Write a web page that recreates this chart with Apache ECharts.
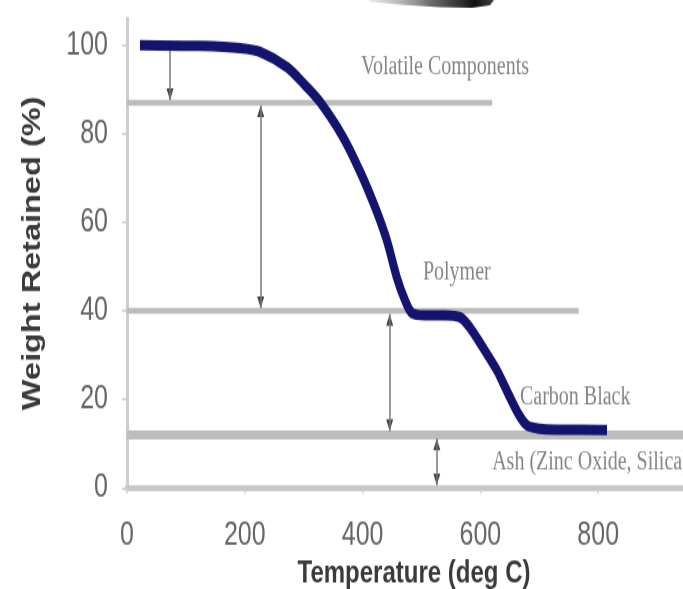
<!DOCTYPE html>
<html><head><meta charset="utf-8">
<script src="https://cdn.jsdelivr.net/npm/echarts@6/dist/echarts.min.js"></script>
<style>
html,body{margin:0;padding:0;background:#fff;overflow:hidden;width:683px;height:589px}
#c{width:683px;height:453px;transform:scaleY(1.3002);transform-origin:0 0}
</style>
</head><body><div id="c"></div>
<script>
// TGA curve (temperature in deg C, weight retained in %)
const temperature = [22,124,192,227,272,302,328,367,397,423,441,458,472,484,506,540,565,582,604,628,647,664,679,701,735,815];
const weight = [100,99.8,99.3,98.4,95.0,91.0,87.1,79.2,71.1,62.8,56.0,47.6,42.4,39.5,39.0,39.0,38.6,36.3,31.8,26.6,21.4,16.9,14.2,13.4,13.2,13.1];
// horizontal level lines
const levelValues = [87, 40, 12];
const levelStarts = [0, 0, 0];
const levelEnds = [620, 767, 944];
// vertical arrows
const arrowTemps = [73, 227, 446, 526];
const arrowFrom = [99.3, 86.4, 39.3, 11.2];
const arrowTo = [87.6, 40.6, 12.9, 0.6];
const arrowStartHead = [false, true, true, true];
// annotations
const labelTexts = ['Volatile Components','Polymer','Carbon Black','Ash (Zinc Oxide, Silica)'];
const labelTemps = [540, 560, 761, 620];
const labelWeights = [95.0, 48.5, 20.5, 5.9];
const labelAlign = ['center','center','center','left'];

const chart = echarts.init(document.getElementById('c'), null, {renderer:'canvas'});

const levelSeries = levelValues.map((v,i)=>({
  type:'line', silent:true, symbol:'none', z:1,
  data:[[levelStarts[i], v],[levelEnds[i], v]],
  lineStyle:{color:'#bdbdbd', width: i===2 ? 7 : 4.5}
}));

const arrowLines = arrowTemps.map((t,i)=>[
  {coord:[t, arrowFrom[i]]},
  {coord:[t, arrowTo[i]]}
]);

// arrow heads: down-pointing at "to" end, up-pointing at "from" end where present
const headData = [];
arrowTemps.forEach((t,i)=>{
  headData.push({value:[t, arrowTo[i]], symbolRotate:180, symbolOffset:[0,-4.5]});
  if (arrowStartHead[i]) headData.push({value:[t, arrowFrom[i]], symbolRotate:0, symbolOffset:[0,4.5]});
});

const option = {
  animation:false,
  backgroundColor:'#fff',
  grid:{left:127, right:0, top:14.2, bottom:77.6, containLabel:false, outerBoundsMode:'none'},
  graphic:[{
    type:'polygon', silent:true, z:0,
    shape:{points:[[368,0],[494,0],[490,4],[472,6],[440,5.5],[400,3.5],[372,1.5]]},
    style:{fill:new echarts.graphic.LinearGradient(0,0,1,0,[
      {offset:0, color:'rgba(200,200,200,0.4)'},
      {offset:0.5, color:'rgba(90,90,90,0.9)'},
      {offset:0.85, color:'#111'},
      {offset:1, color:'#444'}
    ])}
  }],
  xAxis:{
    type:'value', min:0, max:944, interval:200,
    name:'Temperature (deg C)', nameLocation:'middle', nameGap:54,
    nameTextStyle:{fontFamily:'Liberation Sans, Arial, sans-serif', fontWeight:'bold', fontSize:24, color:'#3a3a3a', padding:[0,0,0,18]},
    axisLine:{show:true, onZero:false, lineStyle:{color:'#c6c6c6', width:4.5}},
    axisTick:{show:true, length:4, lineStyle:{color:'#d0d0d0', width:1.5}},
    axisLabel:{showMaxLabel:false, margin:24, fontFamily:'Liberation Sans, Arial, sans-serif', fontSize:25, color:'#666666'},
    splitLine:{show:false}
  },
  yAxis:{
    type:'value', min:0, max:106, interval:20,
    name:'Weight Retained (%)', nameLocation:'middle', nameGap:81,
    nameTextStyle:{fontFamily:'Liberation Sans, Arial, sans-serif', fontWeight:'bold', fontSize:25, color:'#3a3a3a'},
    axisLine:{show:true, lineStyle:{color:'#cdcdcd', width:3}},
    axisTick:{show:true, length:5, lineStyle:{color:'#cccccc', width:1.5}},
    axisLabel:{showMaxLabel:false, margin:19, fontFamily:'Liberation Sans, Arial, sans-serif', fontSize:25, color:'#666666'},
    splitLine:{show:false}
  },
  series:[
    ...levelSeries,
    {
      type:'line', silent:true, symbol:'none', z:2,
      data:[],
      markLine:{
        silent:true, symbol:['none','none'], precision:2,
        label:{show:false},
        lineStyle:{color:'#7a7a7a', width:1.5, type:'solid'},
        data:arrowLines
      }
    },
    {
      type:'scatter', silent:true, z:3, symbol:'triangle', symbolSize:[7,9],
      itemStyle:{color:'#111'},
      data:headData
    },
    {
      type:'line', silent:true, symbol:'none', z:5, smooth:0.3,
      data: temperature.map((t,i)=>[t, weight[i]]),
      lineStyle:{color:'#14146e', width:8, cap:'butt', join:'round'}
    },
    {
      type:'scatter', silent:true, symbolSize:0, z:6,
      data: labelTexts.map((s,i)=>({
        value:[labelTemps[i], labelWeights[i]],
        label:{show:true, position:'inside', align:labelAlign[i], formatter:s}
      })),
      label:{fontFamily:'Liberation Serif, Times New Roman, serif', fontSize:20, color:'#666666'}
    }
  ]
};
chart.setOption(option);
</script>
</body></html>
